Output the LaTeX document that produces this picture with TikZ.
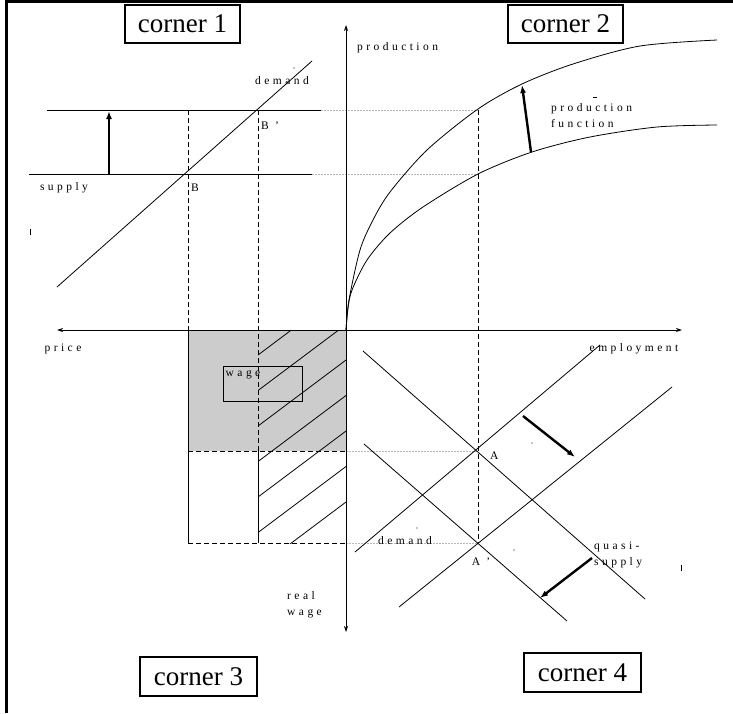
\documentclass[tikz,border=0pt]{standalone}
\usepackage{fontspec}
\setmainfont{Liberation Serif}
\usetikzlibrary{arrows.meta,calc}

\newcommand{\spacedfont}{\fontsize{11.5}{16}\selectfont\addfontfeatures{LetterSpace=30}}
\newcommand{\cornerfont}{\fontsize{27}{30}\selectfont}

\begin{document}
\begin{tikzpicture}[x=1pt, y=-1pt, >={Stealth[length=6pt,width=4pt]}]
        % Style definitions
        \tikzset{
            corner/.style={draw, line width=1.5pt, minimum width=115pt, minimum height=38pt, inner sep=0pt, font=\cornerfont},
            lbl/.style={inner sep=0pt, font=\spacedfont, align=left},
            curve/.style={line width=0.8pt},
            guide/.style={line width=0.8pt, dash pattern=on 5pt off 3pt},
            faint/.style={gray!55, line width=0.5pt, dash pattern=on 2pt off 1pt},
            moveArrow/.style={line width=2.4pt, -{Latex[length=8pt,width=6pt]}}
        }
        \useasboundingbox (0,0) rectangle (733,713);

        % Frame
        \draw [line width=3pt] (6,713) -- (6,1.5) -- (733,1.5);

        % Corner titles
        \node [corner] (c1) at (182.5,24) {corner 1};
        \node [corner] (c2) at (565.5,24) {corner 2};
        \node [corner, minimum width=117pt, minimum height=39pt] (c3) at (198.5,676.5) {corner 3};
        \node [corner, minimum width=117pt, minimum height=39pt] (c4) at (582.5,672.5) {corner 4};

        % Key points
        \coordinate (O) at (346,330);
        \coordinate (B) at (188,174);
        \coordinate (Bp) at (258,110);
        \coordinate (A) at (478,451);
        \coordinate (Ap) at (478,543);

        % Corner 3: wage area
        \fill [gray!40] (188,330) rectangle (346,451);
        \begin{scope}
            \clip (258,330) rectangle (346,543);
            \foreach \c in {355,390.5,...,570}
                \draw [line width=0.8pt] (258,\c) -- ++(120,-90);
        \end{scope}
        \draw [curve] (188,330) -- (188,543);
        \draw [curve] (258,451) -- (258,543);
        \draw [guide] (188,451) -- (346,451);
        \draw [guide] (188,543) -- (346,543);
        \node [draw, line width=1pt, minimum width=79pt, minimum height=35pt, inner sep=0pt] (wagebox) at (262.5,383.5) {};
        \node [lbl, anchor=north west] (wage) at ($(wagebox.north west)+(3,5)$) {wage};

        % Guide lines
        \draw [guide] (188,110) -- (188,330);
        \draw [guide] (Bp) -- (258,451);
        \draw [guide] (478,110) -- (Ap);
        \draw [faint] (321,110) -- (478,110);
        \draw [faint] (312,174) -- (478,174);
        \draw [faint] (O |- A) -- (A);
        \draw [faint] (O |- Ap) -- (Ap);

        % Corner 1: supply and demand
        \draw [curve] (29,174) -- (312,174);
        \draw [curve] (47,110) -- (321,110);
        \draw [curve] (57,287) -- (312,61);
        \draw [moveArrow] (109,174) -- (109,111);
        \node [lbl] (dem1) at (282,81) {demand};
        \node [lbl] (sup1) at (64,188) {supply};
        \node [lbl, anchor=west] (lblB) at (191,188) {B};
        \node [lbl, anchor=west] (lblBp) at (261,126) {B '};

        % Corner 2: production functions
        \draw [curve] plot [smooth] coordinates {(346,330) (349,300) (360,250) (373,220) (390,192) (427,150) (478,109) (522,84) (573,64) (640,46) (717,40)};
        \draw [curve] plot [smooth] coordinates {(346,330) (348,308) (352,290) (367,260) (390,233) (423,207) (478,174) (532,152) (590,137) (657,127) (717,125)};
        \draw [moveArrow] (531,152) -- (522,85);
        \node [lbl, anchor=west] (prod) at (357,48) {production};
        \node [lbl, anchor=north west] (pf) at (551,103) {production\\function};

        % Corner 4: labour market
        \draw [curve] (363,351) -- (645,599);
        \draw [curve] (364,444) -- (567,621);
        \draw [curve] (355,552) -- (600,345);
        \draw [curve] (399,607) -- (672,387);
        \draw [moveArrow] (523,416) -- (575,457);
        \draw [moveArrow] (592,558) -- (540,598);
        \node [lbl, anchor=west] (lblA) at (490,456) {A};
        \node [lbl] (lblAp) at (481,562) {A '};
        \node [lbl] (dem4) at (405,541) {demand};
        \node [lbl, anchor=north west] (qs) at (594,542) {quasi-\\supply};

        % Axes
        \draw [<->, line width=0.8pt] (346,25) -- (346,632);
        \draw [<->, line width=0.8pt] (57,330) -- (682,330);
        \node [lbl] (price) at (63,349) {price};
        \node [lbl] (empl) at (634,349) {employment};
        \node [lbl, anchor=north west] (rw) at (287,591) {real\\wage};

        % Stray marks
        \draw [line width=0.8pt] (30,229) -- (30,235);
        \draw [line width=0.8pt] (681,565) -- (681,571);
        \draw [line width=0.8pt] (593,97) -- (597,97);
        \foreach \p in {(294,68),(532,443),(417,528),(514,550)}
            \fill \p circle (0.7);
\end{tikzpicture}
\end{document}
